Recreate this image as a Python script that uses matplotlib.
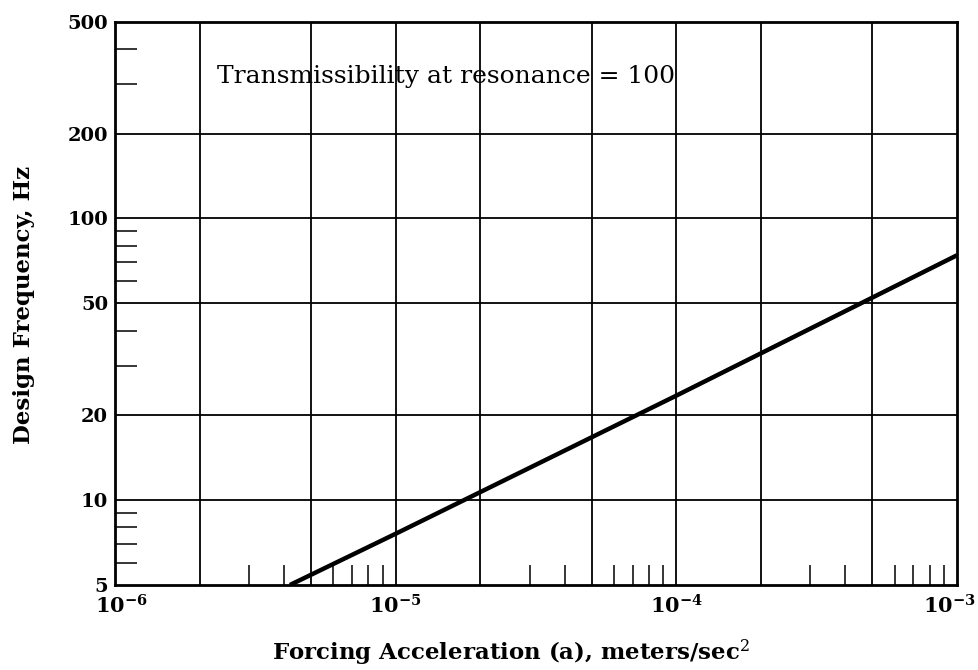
import numpy as np
import matplotlib
matplotlib.use('Agg')
import matplotlib.pyplot as plt
import matplotlib.transforms as mtransforms
from matplotlib.ticker import FixedLocator, NullFormatter

# --- data ---
accel = [4.2e-6, 1e-5, 1.75e-5, 1e-4, 1e-3]     # m/s^2
freq = [5.0, 7.6, 10.0, 23.5, 74.0]             # Hz

x_grid = [2e-6, 5e-6, 1e-5, 2e-5, 5e-5, 1e-4, 2e-4, 5e-4]
y_grid = [10, 20, 50, 100, 200]
x_major = [1e-6, 1e-5, 1e-4, 1e-3]
x_major_labels = [r'$\mathbf{10^{-6}}$', r'$\mathbf{10^{-5}}$', r'$\mathbf{10^{-4}}$', r'$\mathbf{10^{-3}}$']
y_major = [5, 10, 20, 50, 100, 200, 500]
y_major_labels = ['5', '10', '20', '50', '100', '200', '500']
x_minor = [m * d for d in (1e-6, 1e-5, 1e-4) for m in (3, 4, 6, 7, 8, 9)]
y_minor = [6, 7, 8, 9, 30, 40, 60, 70, 80, 90, 300, 400]

plt.rcParams['font.family'] = 'DejaVu Serif'
plt.rcParams['mathtext.fontset'] = 'dejavuserif'

fig = plt.figure(figsize=(9.79, 6.70), dpi=100)
ax = fig.add_axes([0.1175, 0.1269, 0.86, 0.841])

ax.set_xscale('log')
ax.set_yscale('log')
ax.set_xlim(1e-6, 1e-3)
ax.set_ylim(5, 500)

# grid drawn by hand so only the chosen lines appear
for xv in x_grid:
    ax.axvline(xv, color='black', lw=1.3, zorder=1)
for yv in y_grid:
    ax.axhline(yv, color='black', lw=1.3, zorder=1)

ax.plot(accel, freq, color='black', lw=3.2, solid_capstyle='butt', zorder=3)

for s in ax.spines.values():
    s.set_linewidth(2.0)

ax.xaxis.set_major_locator(FixedLocator(x_major))
ax.set_xticklabels(x_major_labels, fontsize=15)
ax.yaxis.set_major_locator(FixedLocator(y_major))
ax.set_yticklabels(y_major_labels, fontsize=14, fontweight='bold')
ax.xaxis.set_minor_locator(FixedLocator(x_minor))
ax.yaxis.set_minor_locator(FixedLocator(y_minor))
ax.xaxis.set_minor_formatter(NullFormatter())
ax.yaxis.set_minor_formatter(NullFormatter())

ax.tick_params(axis='x', which='major', length=0, pad=7)
ax.tick_params(axis='y', which='major', length=0, pad=5)
ax.tick_params(axis='x', which='minor', direction='in', length=14.5, width=1.1, top=False)
ax.tick_params(axis='y', which='minor', direction='in', length=16, width=1.1, right=False)

# nudge the end labels like the original
xlabels = ax.get_xticklabels()
xlabels[0].set_transform(xlabels[0].get_transform() +
                         mtransforms.ScaledTranslation(6 / 100, 0, fig.dpi_scale_trans))
xlabels[-1].set_transform(xlabels[-1].get_transform() +
                          mtransforms.ScaledTranslation(-8 / 100, 0, fig.dpi_scale_trans))

ax.text(2.3e-6, 320, 'Transmissibility at resonance = 100', fontsize=18,
        ha='left', va='center')

fig.text(0.522, 0.026, r'Forcing Acceleration (a), meters/sec$^2$', fontsize=16.5,
         fontweight='bold', ha='center', va='center')
fig.text(0.025, 0.545, 'Design Frequency, Hz', fontsize=16.5, fontweight='bold',
         rotation=90, ha='center', va='center')

plt.savefig('out.png', dpi=100)
